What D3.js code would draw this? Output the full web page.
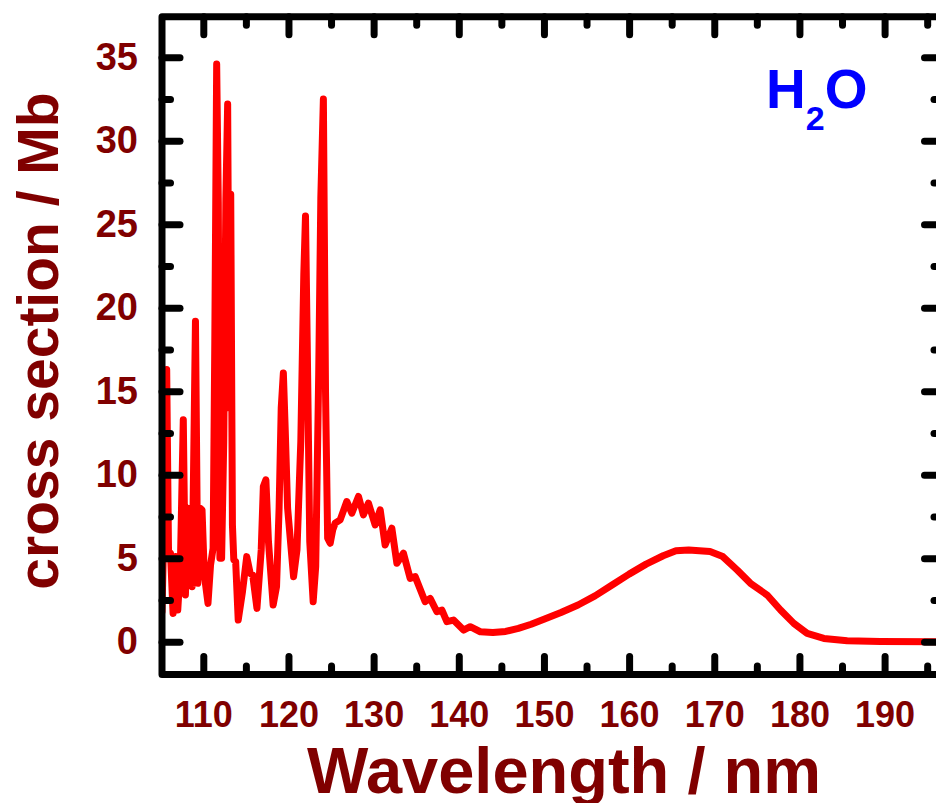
<!DOCTYPE html>
<html>
<head>
<meta charset="utf-8">
<script src="https://cdn.jsdelivr.net/npm/d3@7"></script>
<style>
  html, body { margin: 0; padding: 0; background: #fff; }
  svg { display: block; }
  text { font-family: "Liberation Sans", Arial, sans-serif; font-weight: bold; }
</style>
</head>
<body>
<svg id="chart" width="936" height="803"></svg>
<script>
// ---- data ----
const wavelength = [
  105.15, 105.40, 105.70, 105.92, 106.15, 106.45, 106.75, 107.00, 107.30, 107.65,
  107.90, 108.20, 108.45, 108.68, 109.08, 109.35, 109.62, 109.85, 110.12, 110.55,
  110.85, 111.15, 111.35, 111.57, 111.76, 111.95, 112.15, 112.40, 112.65, 112.86,
  113.05, 113.22, 113.42, 113.58, 113.80, 114.10, 114.60, 115.10, 115.50, 115.80,
  116.30, 116.80, 117.05, 117.35, 117.65, 118.20, 118.60, 118.90, 119.15, 119.40,
  119.62, 119.90, 120.60, 121.00, 121.45, 121.80, 122.00, 122.20, 122.50, 122.90,
  123.20, 123.55, 123.80, 124.10, 124.35, 124.60, 124.90, 125.20, 125.48, 126.07,
  126.85, 127.44, 128.22, 128.80, 129.39, 130.18, 130.77, 131.35, 132.14, 132.73,
  133.50, 134.29, 134.88, 136.05, 136.64, 137.43, 138.02, 138.60, 139.38, 140.56,
  141.34, 142.52, 144.00, 145.50, 147.00, 148.50, 150.00, 152.00, 154.00, 156.00,
  158.00, 160.00, 162.00, 164.00, 165.50, 167.00, 169.50, 171.00, 172.69, 174.25,
  176.21, 177.78, 179.34, 180.91, 182.87, 185.61, 189.50, 196.80
];
const crossSection = [
  1.8, 7.5, 16.3, 5.2, 5.3, 1.7, 5.1, 1.9, 4.4, 13.3,
  2.8, 8.0, 7.7, 3.3, 19.2, 3.5, 8.0, 7.9, 4.0, 2.3,
  4.6, 5.6, 18.0, 34.6, 26.3, 5.0, 5.0, 12.0, 26.5, 32.2,
  14.0, 26.8, 7.0, 4.9, 4.8, 1.3, 3.0, 5.1, 4.1, 4.0,
  2.0, 5.5, 9.3, 9.7, 6.0, 2.2, 3.3, 8.0, 14.0, 16.1,
  12.7, 8.0, 3.9, 5.5, 12.0, 22.0, 25.5, 18.0, 6.0, 2.4,
  4.5, 16.0, 26.6, 32.5, 15.0, 6.2, 5.9, 6.7, 7.1, 7.3,
  8.4, 7.7, 8.7, 7.6, 8.3, 7.0, 7.9, 5.8, 6.8, 4.7,
  5.3, 3.8, 3.9, 2.4, 2.6, 1.8, 1.9, 1.2, 1.3, 0.7,
  0.9, 0.6, 0.55, 0.62, 0.8, 1.05, 1.35, 1.75, 2.2, 2.75,
  3.4, 4.05, 4.65, 5.15, 5.45, 5.5, 5.4, 5.1, 4.3, 3.5,
  2.8, 1.9, 1.1, 0.5, 0.2, 0.06, 0.02, 0.0
];
const xMajorTicks = [110, 120, 130, 140, 150, 160, 170, 180, 190];
const xMinorTicks = [115, 125, 135, 145, 155, 165, 175, 185, 195];
const yMajorTicks = [0, 5, 10, 15, 20, 25, 30, 35];
const yMinorTicks = [2.5, 7.5, 12.5, 17.5, 22.5, 27.5, 32.5];
const xTitle = "Wavelength / nm";
const yTitle = "cross section / Mb";

// ---- layout ----
const svg = d3.select("#chart");
const plotL = 162, plotR = 942.5, plotT = 16.7, plotB = 674.5;
const x = d3.scaleLinear().domain([105.15, 196.8]).range([plotL, plotR]);
const y = d3.scaleLinear().domain([-1.96, 37.43]).range([plotB, plotT]);

const labelColor = "#800000";
const majorLen = 18, minorLen = 8.5, tickW = 7;

function styleAxis(g) {
  g.select(".domain").remove();
  g.selectAll(".tick line")
    .attr("stroke", "#000")
    .attr("stroke-width", tickW)
    .attr("stroke-linecap", "round");
}

// data line
const data = wavelength.map((w, i) => ({ w, v: crossSection[i] }));
svg.append("defs").append("clipPath").attr("id", "clip")
  .append("rect").attr("x", plotL).attr("y", plotT - 10).attr("width", plotR - plotL).attr("height", plotB - plotT + 10);

svg.append("path")
  .datum(data)
  .attr("clip-path", "url(#clip)")
  .attr("fill", "none")
  .attr("stroke", "#ff0000")
  .attr("stroke-width", 7)
  .attr("stroke-linejoin", "round")
  .attr("stroke-linecap", "round")
  .attr("d", d3.line().x(d => x(d.w)).y(d => y(d.v)));

// bottom axis (major with labels)
svg.append("g").attr("transform", `translate(0,${plotB})`)
  .call(d3.axisBottom(x).tickValues(xMajorTicks).tickSize(-majorLen).tickPadding(27).tickFormat(d3.format("d")))
  .call(styleAxis)
  .call(g => g.selectAll("text")
    .attr("fill", labelColor).attr("font-size", 36).attr("font-weight", "bold")
    .attr("font-family", "Liberation Sans, Arial, sans-serif"));
svg.append("g").attr("transform", `translate(0,${plotB})`)
  .call(d3.axisBottom(x).tickValues(xMinorTicks).tickSize(-minorLen).tickFormat(""))
  .call(styleAxis);

// top axis
svg.append("g").attr("transform", `translate(0,${plotT})`)
  .call(d3.axisTop(x).tickValues(xMajorTicks).tickSize(-majorLen).tickFormat(""))
  .call(styleAxis);
svg.append("g").attr("transform", `translate(0,${plotT})`)
  .call(d3.axisTop(x).tickValues(xMinorTicks).tickSize(-minorLen).tickFormat(""))
  .call(styleAxis);

// left axis
svg.append("g").attr("transform", `translate(${plotL},0)`)
  .call(d3.axisLeft(y).tickValues(yMajorTicks).tickSize(-majorLen).tickPadding(24).tickFormat(d3.format("d")))
  .call(styleAxis)
  .call(g => g.selectAll("text")
    .attr("fill", labelColor).attr("font-size", 38).attr("font-weight", "bold")
    .attr("font-family", "Liberation Sans, Arial, sans-serif"));
svg.append("g").attr("transform", `translate(${plotL},0)`)
  .call(d3.axisLeft(y).tickValues(yMinorTicks).tickSize(-minorLen).tickFormat(""))
  .call(styleAxis);

// right axis
svg.append("g").attr("transform", `translate(${plotR},0)`)
  .call(d3.axisRight(y).tickValues(yMajorTicks).tickSize(-majorLen).tickFormat(""))
  .call(styleAxis);
svg.append("g").attr("transform", `translate(${plotR},0)`)
  .call(d3.axisRight(y).tickValues(yMinorTicks).tickSize(-minorLen).tickFormat(""))
  .call(styleAxis);

// frame
svg.append("rect")
  .attr("x", plotL).attr("y", plotT)
  .attr("width", plotR - plotL).attr("height", plotB - plotT)
  .attr("fill", "none").attr("stroke", "#000")
  .attr("stroke-width", 7).attr("stroke-linejoin", "round");

// axis titles
svg.append("text")
  .attr("x", 564).attr("y", 793)
  .attr("text-anchor", "middle")
  .attr("fill", labelColor).attr("font-size", 65)
  .text(xTitle);

svg.append("text")
  .attr("transform", "translate(58,341) rotate(-90)")
  .attr("text-anchor", "middle")
  .attr("fill", labelColor).attr("font-size", 57)
  .text(yTitle);

// H2O label
const h2o = svg.append("text")
  .attr("x", 766).attr("y", 108)
  .attr("fill", "#0000ff").attr("font-size", 55);
h2o.append("tspan").text("H");
h2o.append("tspan").attr("font-size", 34).attr("dy", 22).text("2");
h2o.append("tspan").attr("dy", -22).text("O");
</script>
</body>
</html>
